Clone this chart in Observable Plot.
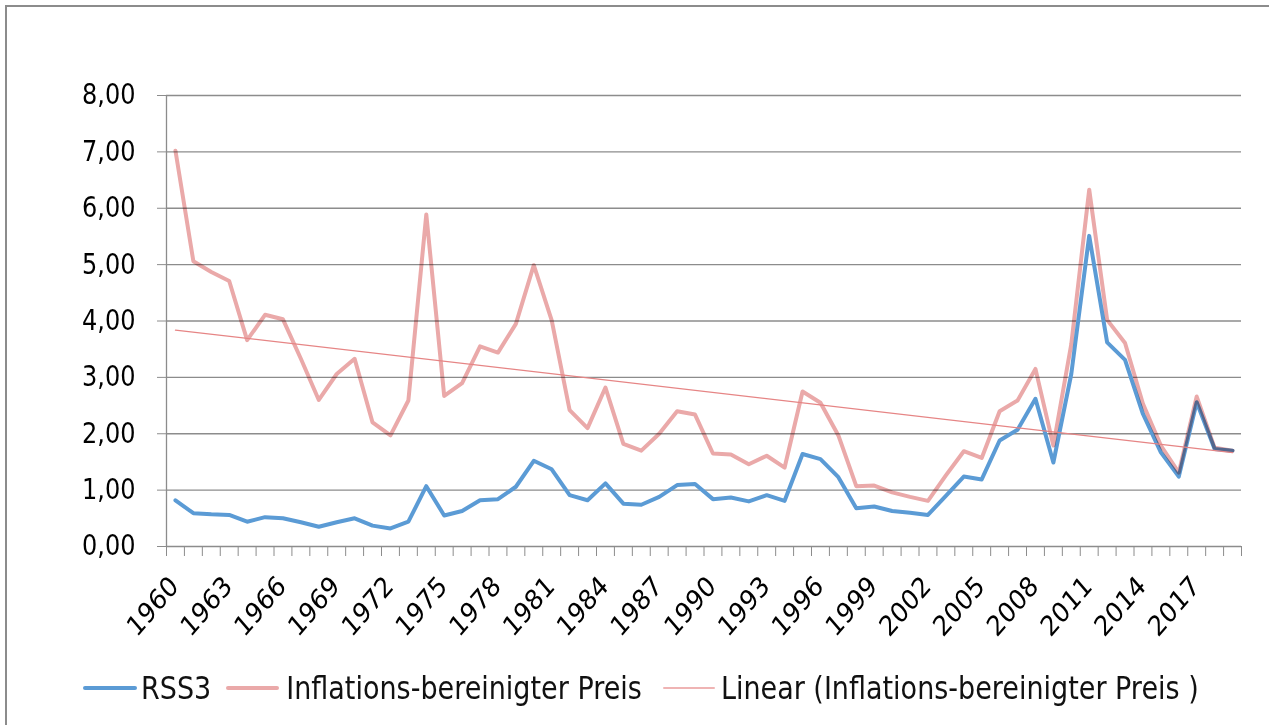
<!DOCTYPE html>
<html>
<head>
<meta charset="utf-8">
<script src="https://cdn.jsdelivr.net/npm/d3@7"></script>
<script src="https://cdn.jsdelivr.net/npm/@observablehq/plot@0.6"></script>
<style>
  html, body { margin: 0; padding: 0; background: #fff; }
  body { width: 1269px; height: 725px; position: relative; overflow: hidden; font-family: "DejaVu Sans", sans-serif; }
  #frame { position: absolute; left: 5px; top: 5px; width: 1400px; height: 900px; border: 2px solid #8c8c8c; box-sizing: border-box; pointer-events: none; }
  #chart { position: absolute; left: 0; top: 0; }
  #legend { position: absolute; left: 83px; top: 667px; height: 42px; display: flex; align-items: center; font-size: 27px; color: #111; white-space: nowrap; }
  .sw { display: inline-block; width: 54px; border-radius: 2px; }
  .lab { display: inline-block; transform: scaleY(1.15); }
</style>
</head>
<body>
<div id="frame"></div>
<div id="chart"></div>
<div id="legend">
  <span class="sw" style="height:4px;background:#5b9bd5;"></span>
  <span class="lab" style="margin-left:4px;">RSS3</span>
  <span class="sw" style="height:4px;background:#eaa9a9;margin-left:15px;width:53px;"></span>
  <span class="lab" style="margin-left:7px;">Inflations-bereinigter Preis</span>
  <span class="sw" style="height:2px;background:#efb4b4;margin-left:21px;width:52px;"></span>
  <span class="lab" style="margin-left:6px;">Linear (Inflations-bereinigter Preis )</span>
</div>
<script>
const years = [1960,1961,1962,1963,1964,1965,1966,1967,1968,1969,
               1970,1971,1972,1973,1974,1975,1976,1977,1978,1979,
               1980,1981,1982,1983,1984,1985,1986,1987,1988,1989,
               1990,1991,1992,1993,1994,1995,1996,1997,1998,1999,
               2000,2001,2002,2003,2004,2005,2006,2007,2008,2009,
               2010,2011,2012,2013,2014,2015,2016,2017,2018,2019];

const rss3 = [0.82,0.59,0.57,0.56,0.44,0.52,0.50,0.43,0.35,0.43,
              0.50,0.37,0.32,0.44,1.07,0.55,0.63,0.82,0.84,1.06,
              1.52,1.37,0.91,0.82,1.12,0.76,0.74,0.88,1.09,1.11,
              0.84,0.87,0.80,0.91,0.81,1.64,1.55,1.23,0.68,0.71,
              0.63,0.60,0.56,0.90,1.24,1.19,1.88,2.07,2.62,1.49,
              3.06,5.51,3.62,3.31,2.35,1.67,1.24,2.56,1.73,1.70];

const preis = [7.02,5.06,4.87,4.71,3.66,4.11,4.03,3.33,2.60,3.06,
               3.33,2.20,1.97,2.59,5.89,2.67,2.90,3.55,3.44,3.95,
               4.99,4.01,2.42,2.10,2.82,1.82,1.70,2.00,2.40,2.34,
               1.65,1.63,1.46,1.61,1.40,2.75,2.55,1.97,1.07,1.08,
               0.96,0.88,0.81,1.26,1.69,1.57,2.40,2.59,3.15,1.79,
               3.59,6.33,4.02,3.61,2.53,1.79,1.31,2.66,1.75,1.70];

const yearLabels = ["1960","1963","1966","1969","1972","1975","1978","1981","1984","1987",
                    "1990","1993","1996","1999","2002","2005","2008","2011","2014","2017"];

const yTicks = [0,1,2,3,4,5,6,7,8];

const data = years.map((y, i) => ({year: y, rss3: rss3[i], preis: preis[i]}));
const boundaries = years.map(y => y - 0.5).concat([years[years.length - 1] + 0.5]);

const GRID = "#8c8c8c";
const fmt = d => d.toFixed(2).replace(".", ",");

const chart = Plot.plot({
  width: 1269,
  height: 650,
  marginLeft: 166,
  marginRight: 28,
  marginTop: 95,
  marginBottom: 104,
  x: {type: "linear", domain: [boundaries[0], boundaries[boundaries.length - 1]]},
  y: {domain: [0, 8]},
  style: {fontFamily: "DejaVu Sans", background: "transparent", overflow: "visible", color: "#000"},
  marks: [
    Plot.gridY({ticks: yTicks.slice(1), stroke: GRID, strokeOpacity: 1, strokeWidth: 1.3}),
    Plot.axisY({ticks: yTicks, tickSize: 9, tickPadding: 22, tickFormat: fmt, fontSize: 24, stroke: GRID, fill: "#000", label: null}),
    Plot.ruleX([boundaries[0]], {stroke: GRID, strokeWidth: 1.3}),
    Plot.ruleY([0], {stroke: GRID, strokeWidth: 1.3}),
    Plot.axisX({ticks: boundaries, tickSize: 10, tickFormat: () => "", stroke: GRID, label: null}),
    Plot.text(yearLabels, {x: d => +d, y: () => 0, text: d => d, rotate: -45, textAnchor: "end", fontSize: 24, fill: "#000", dx: -1, dy: 35}),
    Plot.line(data, {x: "year", y: "rss3", stroke: "#5b9bd5", strokeWidth: 4, strokeLinejoin: "round", strokeLinecap: "round"}),
    Plot.line(data, {x: "year", y: "preis", stroke: "#eaa9a9", strokeWidth: 4, strokeLinejoin: "round", strokeLinecap: "round", mixBlendMode: "multiply"}),
    Plot.linearRegressionY(data, {x: "year", y: "preis", stroke: "#e68585", strokeWidth: 1.2, ci: 0})
  ]
});

// Slight vertical stretch of labels to mimic the reference's proportions
const S = 1.16;
for (const t of chart.querySelectorAll("text")) {
  const tr = t.getAttribute("transform") || "";
  const m = tr.match(/^translate\(([^)]*)\)(.*)$/);
  if (m) t.setAttribute("transform", `translate(${m[1]}) scale(1,${S})${m[2]}`);
}

document.getElementById("chart").appendChild(chart);
</script>
</body>
</html>
